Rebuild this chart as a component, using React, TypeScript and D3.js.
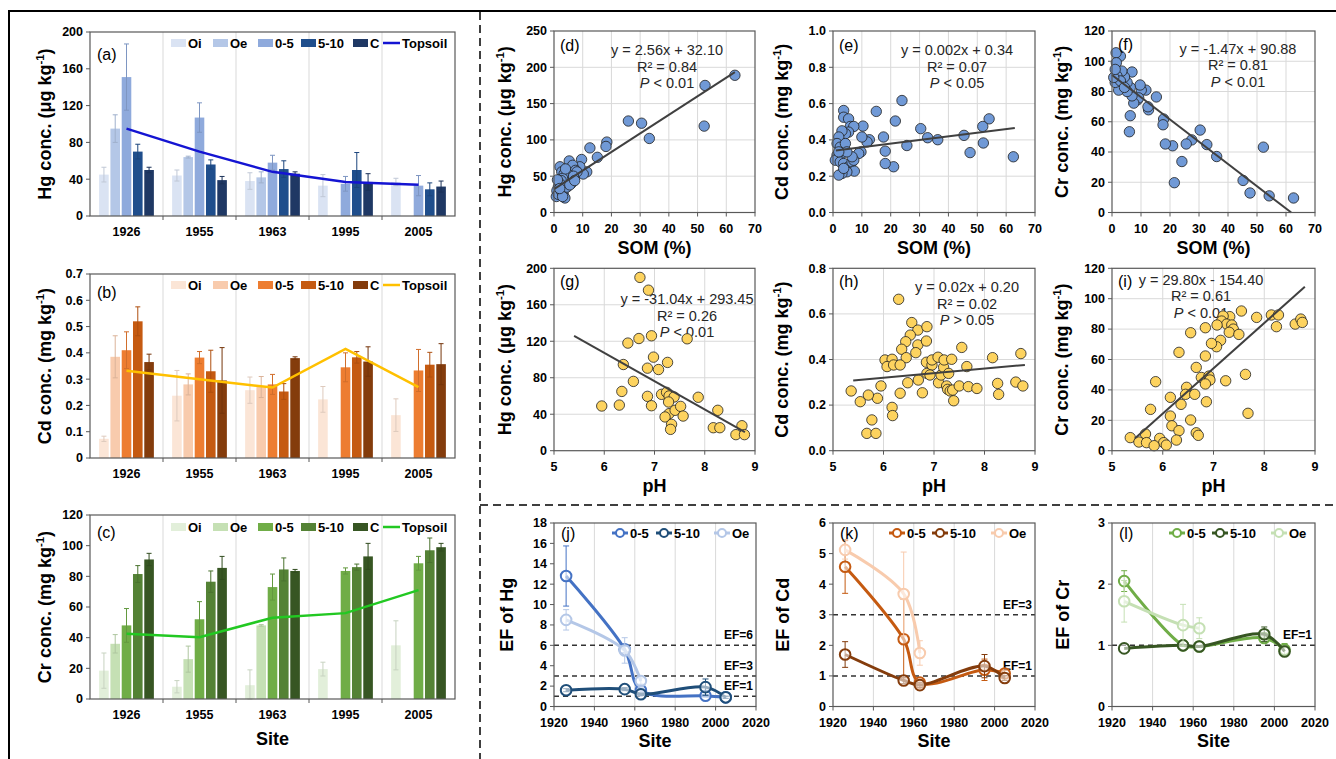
import * as d3 from "d3";

const FONT = "'Liberation Sans', Arial, Helvetica, sans-serif";

// ---------- (a)-(c) bar panels ----------
const sites = ["1926", "1955", "1963", "1995", "2005"];
const layers = ["Oi", "Oe", "0-5", "5-10", "C"];

// rows = layers (Oi, Oe, 0-5, 5-10, C), columns = sites
const hgMeans = [
  [45, 44, 38, 33, 37],
  [95, 64, 42, null, null],
  [151, 107, 58, 35, 33],
  [70, 56, 51, 50, 29],
  [50, 39, 46, 37, 32],
];
const hgErrs = [
  [8, 6, 9, 12, 4],
  [15, 1, 6, 0, 0],
  [36, 16, 8, 8, 11],
  [8, 5, 9, 19, 7],
  [3, 4, 2, 9, 6],
];
const hgTopsoil = [95, 70, 48, 37, 34];

const cdMeans = [
  [0.073, 0.237, 0.258, 0.223, 0.163],
  [0.385, 0.28, 0.27, null, null],
  [0.41, 0.382, 0.28, 0.345, 0.333],
  [0.52, 0.33, 0.253, 0.383, 0.355],
  [0.365, 0.295, 0.38, 0.367, 0.357],
];
const cdErrs = [
  [0.01, 0.096, 0.05, 0.049, 0.062],
  [0.08, 0.04, 0.04, 0, 0],
  [0.07, 0.023, 0.038, 0.055, 0.08],
  [0.055, 0.08, 0.03, 0.022, 0.047],
  [0.03, 0.125, 0.005, 0.056, 0.078],
];
const cdTopsoil = [0.332, 0.3, 0.268, 0.415, 0.27];

const crMeans = [
  [18.5, 8, 9, 19.5, 35],
  [36, 26, 48, null, null],
  [48, 52, 73, 83.5, 88.5],
  [81.5, 76.5, 84.5, 86, 97],
  [91, 85.5, 83.5, 93, 99],
];
const crErrs = [
  [11.5, 4, 10, 4.5, 16],
  [6, 8.5, 0.5, 0, 0],
  [11, 11.5, 8.5, 2, 4.5],
  [5.5, 7, 7.5, 2, 8],
  [4, 7.5, 1, 8.5, 2.5],
];
const crTopsoil = [42.5, 40.3, 53, 56, 71];

const hgColors = ["#dae3f3", "#b4c7e7", "#8faadc", "#1f4e8c", "#1f3864"];
const cdColors = ["#fbe5d6", "#f8cbad", "#ed7d31", "#c55a11", "#843c0c"];
const crColors = ["#e2efda", "#c5e0b4", "#70ad47", "#548235", "#375623"];

// ---------- (d)-(i) scatter panels ----------
const somHg = [
  [63, 189], [52.6, 175], [52.3, 119], [25.9, 126], [30.5, 123], [33.2, 102],
  [18.4, 97], [18.1, 91], [15.1, 76], [12.5, 89], [9.6, 73], [11.4, 56],
  [10.2, 53], [9, 63], [5.3, 71], [2.1, 63], [2.7, 56], [4.4, 49], [6.5, 65],
  [7.5, 58], [8, 56], [7, 46], [6, 40], [5, 52], [4, 41], [3.5, 53], [3, 47],
  [3.2, 38], [2.5, 44], [2, 40], [1.5, 35], [1, 30], [0.8, 22], [1.5, 25],
  [2.5, 30], [3.2, 26], [3.8, 20], [3, 22], [4.5, 35], [5.5, 38], [6.8, 50],
  [4, 60], [1.2, 45], [2, 33], [7.2, 44],
];
const somCd = [
  [62.5, 0.307], [54.1, 0.516], [51.9, 0.474], [52.1, 0.383], [47.5, 0.33],
  [45.4, 0.425], [36.3, 0.401], [32.8, 0.412], [30.4, 0.462], [25.6, 0.369],
  [23.9, 0.617], [21.6, 0.504], [21, 0.252], [18.1, 0.27], [18.1, 0.338],
  [17.5, 0.416], [15, 0.557], [12.6, 0.401], [11.8, 0.389], [10.4, 0.476],
  [10, 0.416], [9.7, 0.334], [8.9, 0.325], [3.7, 0.562], [3.7, 0.525],
  [5.4, 0.516], [6, 0.474], [7.2, 0.474], [5.4, 0.443], [4.3, 0.434],
  [3.1, 0.45], [2, 0.416], [1.4, 0.38], [2.5, 0.36], [4.3, 0.38], [3.1, 0.325],
  [1.4, 0.316], [0.8, 0.288], [2.5, 0.279], [3.7, 0.27], [5.4, 0.252],
  [6.6, 0.279], [7.2, 0.288], [7.4, 0.228], [4.8, 0.224], [3.1, 0.215],
  [2, 0.206], [3.7, 0.243], [6.6, 0.307], [4.8, 0.334], [2, 0.334],
];
const somCr = [
  [62.6, 9.6], [54.2, 11], [47.6, 12.9], [45.2, 21.2], [52.2, 43.2], [36.1, 37],
  [32.7, 44.9], [30.4, 54.5], [27.5, 48], [25.6, 45.3], [24.1, 33.7], [21.5, 19.7],
  [20.9, 44.1], [18.4, 45.3], [17.8, 61.8], [17.6, 58], [15.3, 76.4], [12.6, 67.9],
  [12.4, 69.9], [11.7, 80.9], [10.1, 80.9], [9.7, 84.3], [8.8, 74.5], [9.2, 75.8],
  [7.5, 72.3], [6.9, 77.1], [6.3, 64], [6, 53.4], [6.9, 92.9], [6.3, 82.7],
  [5.2, 86], [5.2, 80], [4.3, 89.6], [3.4, 93.5], [2.9, 103.4], [1.4, 105.6],
  [1.5, 99], [1.7, 90.3], [2.3, 80.9], [1.1, 86], [2.9, 87], [4.3, 82.7],
  [0.6, 89.3], [1.1, 94.6],
];
const phHg = [
  [6.71, 190], [6.88, 176], [5.95, 49], [6.3, 50], [6.35, 65], [6.38, 94.5],
  [6.47, 118], [6.58, 76], [6.69, 123], [6.94, 126], [6.98, 102.6], [6.86, 90.5],
  [7.08, 89], [7.26, 96.8], [6.86, 59.6], [6.94, 49.3], [7.14, 61.8], [7.24, 64],
  [7.29, 60], [7.39, 58.9], [7.28, 53.4], [7.29, 40.6], [7.21, 37], [7.41, 44.3],
  [7.52, 48.6], [7.57, 38], [7.34, 28.9], [7.32, 23.4], [7.65, 122.7], [7.87, 58.6],
  [8.26, 44.3], [8.17, 25.2], [8.3, 25.2], [8.62, 17.6], [8.74, 27.4], [8.79, 17.6],
];
const phCd = [
  [6.3, 0.664], [6.56, 0.562], [6.68, 0.529], [6.86, 0.544], [6.53, 0.507],
  [6.44, 0.478], [6.68, 0.464], [6.85, 0.481], [6.36, 0.445], [6.64, 0.43],
  [6.45, 0.408], [6.03, 0.398], [6.17, 0.401], [6.07, 0.369], [6.2, 0.376],
  [6.33, 0.376], [5.95, 0.284], [5.88, 0.23], [5.7, 0.244], [5.54, 0.215],
  [5.36, 0.262], [5.77, 0.135], [5.67, 0.076], [5.85, 0.076], [6.17, 0.19],
  [6.18, 0.154], [6.33, 0.252], [6.48, 0.298], [6.69, 0.31], [6.77, 0.254],
  [6.85, 0.388], [6.86, 0.339], [6.96, 0.376], [6.96, 0.398], [6.92, 0.332],
  [7.08, 0.41], [7.09, 0.298], [7.14, 0.332], [7.19, 0.366], [7.2, 0.398],
  [7.25, 0.284], [7.27, 0.269], [7.29, 0.339], [7.32, 0.262], [7.35, 0.401],
  [7.37, 0.266], [7.39, 0.219], [7.5, 0.284], [7.55, 0.453], [7.65, 0.369],
  [7.68, 0.281], [7.85, 0.273], [8.16, 0.408], [8.26, 0.295], [8.28, 0.247],
  [8.62, 0.301], [8.72, 0.426], [8.76, 0.284],
];
const phCr = [
  [7.55, 91.9], [7.85, 87.7], [8.14, 89.3], [8.28, 89.3], [8.24, 81.6], [8.61, 83.3],
  [8.72, 86.6], [8.75, 84.4], [7.32, 88.2], [7.19, 88.6], [7.16, 85.3], [7.26, 83.3],
  [7.36, 82.7], [7.39, 80], [7.31, 77.9], [7.5, 76.5], [7.07, 82.7], [7.14, 72.6],
  [7.06, 68.4], [6.96, 70.6], [6.55, 77.6], [6.84, 80.9], [6.32, 64.7], [6.84, 62.3],
  [6.66, 54.8], [6.76, 48.2], [6.91, 49.1], [6.93, 46.5], [6.84, 43.9], [7.24, 46],
  [7.63, 50.2], [5.86, 45.4], [6.47, 41.7], [6.45, 37.1], [6.63, 37.1], [6.15, 35.1],
  [6.36, 30.5], [5.76, 27.2], [6.15, 22.8], [6.55, 20.2], [6.18, 16.4], [6.86, 32.2],
  [6.66, 11.8], [6.7, 10.1], [6.32, 13.2], [6.27, 7], [5.66, 11], [5.36, 8.6],
  [5.53, 5.7], [5.68, 5.3], [5.94, 8.1], [6.02, 5.3], [6.07, 3.7], [5.83, 3.3],
  [7.68, 24.6],
];

// fitted lines: [slope, intercept] and text shown on each panel
const fitCoefs = [[2.56, 32.1], [0.002, 0.34], [-1.47, 90.88], [-31.04, 293.45], [0.02, 0.2], [29.8, -154.4]];
const fitEqs = ["y = 2.56x + 32.10", "y = 0.002x + 0.34", "y = -1.47x + 90.88", "y = -31.04x + 293.45", "y = 0.02x + 0.20", "y = 29.80x - 154.40"];
const fitR2 = ["0.84", "0.07", "0.81", "0.26", "0.02", "0.61"];
const fitP = ["< 0.01", "< 0.05", "< 0.01", "< 0.01", "> 0.05", "< 0.01"];

// ---------- (j)-(l) enrichment factors ----------
const efYears = [1926, 1955, 1963, 1995, 2005];
const efNames = ["0-5", "5-10", "Oe"];
const efHg = [[12.8, 5.6, 1.6, 1.05, 0.9], [1.6, 1.7, 1.2, 1.9, 0.9], [8.5, 5.5, 2.5, null, null]];
const efHgErr = [[2.95, 0.3, 0.2, 0.1, 0.1], [0.15, 0.15, 0.1, 0.8, 0.1], [1.0, 1.25, 0.3, 0, 0]];
const efCd = [[4.57, 2.2, 0.78, 1.2, 1.08], [1.7, 0.85, 0.7, 1.32, 0.93], [5.12, 3.68, 1.75, null, null]];
const efCdErr = [[0.87, 1.3, 0.1, 0.35, 0.1], [0.42, 0.1, 0.08, 0.38, 0.08], [0.3, 1.37, 0.4, 0, 0]];
const efCr = [[2.05, 1.0, 0.98, 1.12, 0.93], [0.95, 1.0, 0.98, 1.18, 0.9], [1.72, 1.33, 1.28, null, null]];
const efCrErr = [[0.17, 0.04, 0.04, 0.06, 0.1], [0.03, 0.03, 0.03, 0.12, 0.05], [0.34, 0.34, 0.17, 0, 0]];
const efHgColors = ["#4472c4", "#1f4e79", "#b4c7e7"];
const efCdColors = ["#c55a11", "#843c0c", "#f8cbad"];
const efCrColors = ["#70ad47", "#375623", "#c5e0b4"];

type Frame = { l: number; r: number; t: number; b: number };

const AX = "#595959";
const GRID = "#d9d9d9";
const TITLE_SIZE = 18;

// evenly spaced ticks without float drift
const steps = (lo: number, hi: number, step: number) =>
  d3.range(0, Math.round((hi - lo) / step) + 1).map((i) => +(lo + i * step).toFixed(6));

function YTitle({ x, y, text, sup }: { x: number; y: number; text: string; sup?: boolean }) {
  return (
    <text transform={`translate(${x},${y}) rotate(-90)`} textAnchor="middle" fontWeight="bold" fontSize={TITLE_SIZE} fill="#000">
      <tspan>{text}</tspan>
      {sup && (
        <>
          <tspan dy={-7} fontSize={11.5}>-1</tspan>
          <tspan dy={7}>)</tspan>
        </>
      )}
    </text>
  );
}

function YAxisTicks({ f, y, ticks, fmt }: any) {
  return (
    <g>
      {ticks.map((v: number, i: number) => (
        <g key={i}>
          <line x1={f.l - 4} x2={f.l} y1={y(v)} y2={y(v)} stroke={AX} />
          <text x={f.l - 7} y={y(v)} dy="0.35em" textAnchor="end" fontWeight="bold" fontSize={12.5} fill="#000">
            {fmt(v)}
          </text>
        </g>
      ))}
    </g>
  );
}

function BarPanel({ t, b, yMax, yStep, fmt, means, errs, topsoil, colors, lineColor, tag, tagY, legendY, title, site }: any) {
  const f: Frame = { l: 90, r: 455, t, b };
  const x0 = d3.scaleBand<string>().domain(sites).range([f.l, f.r]).paddingInner(0.25).paddingOuter(0.125);
  const x1 = d3.scaleBand<string>().domain(layers).range([0, x0.bandwidth()]).paddingInner(0.15);
  const y = d3.scaleLinear().domain([0, yMax]).range([f.b, f.t]);
  const ticks = steps(0, yMax, yStep);
  const bounds = d3.range(1, sites.length).map((i) => f.l + i * x0.step());
  const line = d3
    .line<number>()
    .x((_, i) => (x0(sites[i]) as number) + x0.bandwidth() / 2)
    .y((v) => y(v));
  const swX = [171, 213, 258, 301, 353];
  return (
    <g>
      {bounds.map((bx, i) => (
        <g key={i}>
          <line x1={bx} x2={bx} y1={f.t} y2={f.b} stroke={GRID} />
          <line x1={bx} x2={bx} y1={f.b} y2={f.b + 4} stroke={AX} />
        </g>
      ))}
      {layers.map((ly, li) =>
        sites.map((s, si) => {
          const m = means[li][si];
          if (m == null) return null;
          const e = errs[li][si];
          const bx = (x0(s) as number) + (x1(ly) as number);
          const cx = bx + x1.bandwidth() / 2;
          const ec = d3.color(colors[li])!.darker(0.35).formatHex();
          return (
            <g key={ly + s}>
              <rect x={bx} y={y(m)} width={x1.bandwidth()} height={f.b - y(m)} fill={colors[li]} />
              {e > 0 && (
                <g stroke={ec} strokeWidth={1}>
                  <line x1={cx} x2={cx} y1={y(Math.max(0, m - e))} y2={y(m + e)} />
                  <line x1={cx - 2.5} x2={cx + 2.5} y1={y(m + e)} y2={y(m + e)} />
                  <line x1={cx - 2.5} x2={cx + 2.5} y1={y(Math.max(0, m - e))} y2={y(Math.max(0, m - e))} />
                </g>
              )}
            </g>
          );
        })
      )}
      <path d={line(topsoil) as string} fill="none" stroke={lineColor} strokeWidth={2.5} />
      <rect x={f.l} y={f.t} width={f.r - f.l} height={f.b - f.t} fill="none" stroke={AX} strokeWidth={1.2} />
      <YAxisTicks f={f} y={y} ticks={ticks} fmt={fmt} />
      {sites.map((s) => (
        <text key={s} x={(x0(s) as number) + x0.bandwidth() / 2} y={f.b + 19.5} textAnchor="middle" fontWeight="bold" fontSize={12.5}>
          {s}
        </text>
      ))}
      {layers.map((ly, i) => (
        <g key={ly}>
          <rect x={swX[i]} y={legendY - 4} width={15} height={8} fill={colors[i]} />
          <text x={swX[i] + 17} y={legendY} dy="0.35em" fontWeight="bold" fontSize={13}>
            {ly}
          </text>
        </g>
      ))}
      <line x1={383} x2={400} y1={legendY} y2={legendY} stroke={lineColor} strokeWidth={2.5} />
      <text x={402} y={legendY} dy="0.35em" fontWeight="bold" fontSize={13}>
        Topsoil
      </text>
      <text x={97} y={tagY} fontSize={16}>
        {tag}
      </text>
      <YTitle x={51} y={(f.t + f.b) / 2} text={title} sup />
      {site && (
        <text x={(f.l + f.r) / 2} y={745} textAnchor="middle" fontWeight="bold" fontSize={TITLE_SIZE}>
          Site
        </text>
      )}
    </g>
  );
}

function ScatterPanel({ f, xDom, xStep, yDom, yStep, fmtY, pts, fill, idx, lineX, eqX, eqY, tag, tagY, title, titleX, xTitle, xTitleY, tickY }: any) {
  const x = d3.scaleLinear().domain(xDom).range([f.l, f.r]);
  const y = d3.scaleLinear().domain(yDom).range([f.b, f.t]);
  const xt = steps(xDom[0], xDom[1], xStep);
  const yt = steps(yDom[0], yDom[1], yStep);
  const [a, c] = fitCoefs[idx];
  return (
    <g>
      {xt.slice(1, -1).map((v: number, i: number) => (
        <line key={"gx" + i} x1={x(v)} x2={x(v)} y1={f.t} y2={f.b} stroke={GRID} />
      ))}
      {yt.slice(1, -1).map((v: number, i: number) => (
        <line key={"gy" + i} x1={f.l} x2={f.r} y1={y(v)} y2={y(v)} stroke={GRID} />
      ))}
      <text x={eqX} y={eqY[0]} textAnchor="middle" fontSize={14.5} fill="#262626">{fitEqs[idx]}</text>
      <text x={eqX} y={eqY[1]} textAnchor="middle" fontSize={14.5} fill="#262626">R² = {fitR2[idx]}</text>
      <text x={eqX} y={eqY[2]} textAnchor="middle" fontSize={14.5} fill="#262626">
        <tspan fontStyle="italic">P</tspan> {fitP[idx]}
      </text>
      {pts.map((p: number[], i: number) => (
        <circle key={i} cx={x(p[0])} cy={y(p[1])} r={5.2} fill={fill} stroke="#1f1f1f" strokeWidth={0.8} />
      ))}
      <line x1={x(lineX[0])} x2={x(lineX[1])} y1={y(a * lineX[0] + c)} y2={y(a * lineX[1] + c)} stroke="#404040" strokeWidth={2} />
      <rect x={f.l} y={f.t} width={f.r - f.l} height={f.b - f.t} fill="none" stroke={AX} strokeWidth={1.2} />
      <YAxisTicks f={f} y={y} ticks={yt} fmt={fmtY} />
      {xt.map((v: number, i: number) => (
        <g key={"xt" + i}>
          <line x1={x(v)} x2={x(v)} y1={f.b} y2={f.b + 4} stroke={AX} />
          <text x={x(v)} y={tickY} textAnchor="middle" fontWeight="bold" fontSize={12.5}>
            {v}
          </text>
        </g>
      ))}
      <text x={f.l + 6} y={tagY} fontSize={16}>{tag}</text>
      <YTitle x={titleX} y={(f.t + f.b) / 2} text={title} sup />
      <text x={(f.l + f.r) / 2} y={xTitleY} textAnchor="middle" fontWeight="bold" fontSize={TITLE_SIZE}>{xTitle}</text>
    </g>
  );
}

function EFPanel({ f, yMax, vals, errs, colors, levels, tag, legX, title, titleX }: any) {
  const x = d3.scaleLinear().domain([1920, 2020]).range([f.l, f.r]);
  const y = d3.scaleLinear().domain([0, yMax]).range([f.b, f.t]);
  const xt = steps(1920, 2020, 20);
  const yt = steps(0, yMax, yMax > 10 ? 2 : 1);
  const line = d3
    .line<[number, number]>()
    .x((d) => x(d[0]))
    .y((d) => y(d[1]))
    .curve(d3.curveCatmullRom.alpha(0.5));
  const ly = 533;
  return (
    <g>
      {xt.slice(1, -1).map((v: number, i: number) => (
        <line key={i} x1={x(v)} x2={x(v)} y1={f.t} y2={f.b} stroke={GRID} />
      ))}
      {levels.map((lv: number) => (
        <g key={lv}>
          <line x1={f.l} x2={f.r} y1={y(lv)} y2={y(lv)} stroke="#333" strokeWidth={1.5} strokeDasharray="5,4" />
          <text x={f.r - 3} y={y(lv) - 6} textAnchor="end" fontWeight="bold" fontSize={12}>EF={lv}</text>
        </g>
      ))}
      {vals.map((ser: (number | null)[], si: number) => {
        const pts = ser
          .map((v, i) => [efYears[i], v, errs[si][i]] as [number, number | null, number])
          .filter((d) => d[1] != null) as [number, number, number][];
        return (
          <g key={si}>
            {pts.map((d, i) =>
              d[2] > 0.05 ? (
                <g key={"e" + i} stroke={colors[si]} strokeWidth={1}>
                  <line x1={x(d[0])} x2={x(d[0])} y1={y(d[1] - d[2])} y2={y(d[1] + d[2])} />
                  <line x1={x(d[0]) - 3} x2={x(d[0]) + 3} y1={y(d[1] + d[2])} y2={y(d[1] + d[2])} />
                  <line x1={x(d[0]) - 3} x2={x(d[0]) + 3} y1={y(d[1] - d[2])} y2={y(d[1] - d[2])} />
                </g>
              ) : null
            )}
            <path d={line(pts.map((d) => [d[0], d[1]] as [number, number])) as string} fill="none" stroke={colors[si]} strokeWidth={3} />
            {pts.map((d, i) => (
              <circle key={i} cx={x(d[0])} cy={y(d[1])} r={5.3} fill="#fff" fillOpacity={0.55} stroke={colors[si]} strokeWidth={2} />
            ))}
          </g>
        );
      })}
      <rect x={f.l} y={f.t} width={f.r - f.l} height={f.b - f.t} fill="none" stroke={AX} strokeWidth={1.2} />
      <YAxisTicks f={f} y={y} ticks={yt} fmt={(v: number) => String(v)} />
      {xt.map((v: number) => (
        <g key={v}>
          <line x1={x(v)} x2={x(v)} y1={f.b} y2={f.b + 4} stroke={AX} />
          <text x={x(v)} y={f.b + 20} textAnchor="middle" fontWeight="bold" fontSize={12.5}>{v}</text>
        </g>
      ))}
      {efNames.map((n, i) => (
        <g key={n}>
          <line x1={legX[i]} x2={legX[i] + 16} y1={ly} y2={ly} stroke={colors[i]} strokeWidth={3} />
          <circle cx={legX[i] + 8} cy={ly} r={4} fill="#fff" stroke={colors[i]} strokeWidth={2} />
          <text x={legX[i] + 18} y={ly} dy="0.35em" fontWeight="bold" fontSize={13}>{n}</text>
        </g>
      ))}
      <text x={f.l + 7} y={539} fontSize={16}>{tag}</text>
      <YTitle x={titleX} y={(f.t + f.b) / 2} text={title} />
      <text x={(f.l + f.r) / 2} y={747} textAnchor="middle" fontWeight="bold" fontSize={TITLE_SIZE}>Site</text>
    </g>
  );
}

const fmtInt = (v: number) => String(Math.round(v));
const fmt1 = (v: number) => v.toFixed(1);
const fmt1z = (v: number) => (v === 0 ? "0" : v.toFixed(1));

export default function App() {
  const row1 = { t: 31, b: 212.5 };
  const row2 = { t: 268.3, b: 450.7 };
  const row3 = { t: 523, b: 706.5 };
  const colL = [554, 833, 1112];
  const colR = [755, 1035, 1315];
  return (
    <div style={{ position: "absolute", left: 0, top: 0 }}>
      <svg width={1336} height={759} style={{ display: "block" }} fontFamily={FONT}>
        <rect width={1336} height={759} fill="#fff" />
        {/* frame */}
        <line x1={8} x2={1336} y1={11} y2={11} stroke="#000" strokeWidth={2} />
        <line x1={9} x2={9} y1={10} y2={759} stroke="#000" strokeWidth={2} />
        <line x1={480} x2={480} y1={12} y2={759} stroke="#000" strokeWidth={1.5} strokeDasharray="8,5" />
        <line x1={480} x2={1336} y1={505} y2={505} stroke="#000" strokeWidth={1.5} strokeDasharray="8,5" />

        <BarPanel t={32} b={216} yMax={200} yStep={40} fmt={fmtInt} means={hgMeans} errs={hgErrs} topsoil={hgTopsoil}
          colors={hgColors} lineColor="#1414d2" tag="(a)" tagY={60} legendY={43} title="Hg conc. (μg kg" />
        <BarPanel t={274} b={458} yMax={0.7} yStep={0.1} fmt={fmt1z} means={cdMeans} errs={cdErrs} topsoil={cdTopsoil}
          colors={cdColors} lineColor="#ffc000" tag="(b)" tagY={298} legendY={285} title="Cd conc. (mg kg" />
        <BarPanel t={515} b={699} yMax={120} yStep={20} fmt={fmtInt} means={crMeans} errs={crErrs} topsoil={crTopsoil}
          colors={crColors} lineColor="#22c822" tag="(c)" tagY={538} legendY={527} title="Cr conc. (mg kg" site />

        <ScatterPanel f={{ l: colL[0], r: colR[0], ...row1 }} xDom={[0, 70]} xStep={10} yDom={[0, 250]} yStep={50} fmtY={fmtInt}
          pts={somHg} fill="#7099d6" idx={0} lineX={[0, 63]} eqX={667} eqY={[55, 72, 88]} tag="(d)" tagY={51}
          title="Hg conc. (μg kg" titleX={511} xTitle="SOM (%)" xTitleY={254} tickY={233} />
        <ScatterPanel f={{ l: colL[1], r: colR[1], ...row1 }} xDom={[0, 70]} xStep={10} yDom={[0, 1]} yStep={0.2} fmtY={fmt1}
          pts={somCd} fill="#7099d6" idx={1} lineX={[1, 63]} eqX={957} eqY={[55, 72, 88]} tag="(e)" tagY={51}
          title="Cd conc. (mg kg" titleX={788} xTitle="SOM (%)" xTitleY={254} tickY={233} />
        <ScatterPanel f={{ l: colL[2], r: colR[2], ...row1 }} xDom={[0, 70]} xStep={10} yDom={[0, 120]} yStep={20} fmtY={fmtInt}
          pts={somCr} fill="#7099d6" idx={2} lineX={[0, 61.8]} eqX={1238} eqY={[53.5, 70, 87]} tag="(f)" tagY={50}
          title="Cr conc. (mg kg" titleX={1068} xTitle="SOM (%)" xTitleY={254} tickY={233} />

        <ScatterPanel f={{ l: colL[0], r: colR[0], ...row2 }} xDom={[5, 9]} xStep={1} yDom={[0, 200]} yStep={40} fmtY={fmtInt}
          pts={phHg} fill="#fdd35f" idx={3} lineX={[5.4, 8.8]} eqX={687} eqY={[304, 321, 337]} tag="(g)" tagY={287}
          title="Hg conc. (μg kg" titleX={511} xTitle="pH" xTitleY={492} tickY={471} />
        <ScatterPanel f={{ l: colL[1], r: colR[1], ...row2 }} xDom={[5, 9]} xStep={1} yDom={[0, 0.8]} yStep={0.2} fmtY={fmt1}
          pts={phCd} fill="#fdd35f" idx={4} lineX={[5.4, 8.8]} eqX={967} eqY={[292, 308.5, 325]} tag="(h)" tagY={287}
          title="Cd conc. (mg kg" titleX={788} xTitle="pH" xTitleY={492} tickY={471} />
        <ScatterPanel f={{ l: colL[2], r: colR[2], ...row2 }} xDom={[5, 9]} xStep={1} yDom={[0, 120]} yStep={20} fmtY={fmtInt}
          pts={phCr} fill="#fdd35f" idx={5} lineX={[5.45, 8.8]} eqX={1201} eqY={[285, 301, 318]} tag="(i)" tagY={287}
          title="Cr conc. (mg kg" titleX={1068} xTitle="pH" xTitleY={492} tickY={471} />

        <EFPanel f={{ l: colL[0], r: 756, ...row3 }} yMax={18} vals={efHg} errs={efHgErr} colors={efHgColors} levels={[1, 3, 6]}
          tag="(j)" legX={[612, 656, 714]} title="EF of Hg" titleX={513} />
        <EFPanel f={{ l: colL[1], r: colR[1], ...row3 }} yMax={6} vals={efCd} errs={efCdErr} colors={efCdColors} levels={[1, 3]}
          tag="(k)" legX={[889, 932, 991]} title="EF of Cd" titleX={789} />
        <EFPanel f={{ l: colL[2], r: colR[2], ...row3 }} yMax={3} vals={efCr} errs={efCrErr} colors={efCrColors} levels={[1]}
          tag="(l)" legX={[1169, 1212, 1271]} title="EF of Cr" titleX={1069} />
      </svg>
    </div>
  );
}
